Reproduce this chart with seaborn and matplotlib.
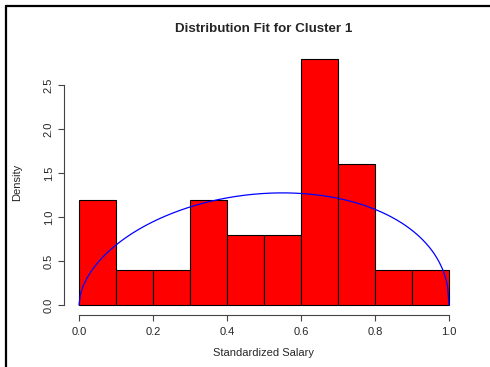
import math
import numpy as np
import pandas as pd
import matplotlib
matplotlib.use("Agg")
import matplotlib.pyplot as plt
from matplotlib.lines import Line2D
import seaborn as sns

# histogram of standardized salary, cluster 1 (25 obs)
bin_edges = [0.0, 0.1, 0.2, 0.3, 0.4, 0.5, 0.6, 0.7, 0.8, 0.9, 1.0]
bin_counts = [3, 1, 1, 3, 2, 2, 7, 4, 1, 1]

# fitted beta shape parameters
shape1 = 1.55
shape2 = 1.45

x_ticks = [0.0, 0.2, 0.4, 0.6, 0.8, 1.0]
y_ticks = [0.0, 0.5, 1.0, 1.5, 2.0, 2.5]

mids = [(a + b) / 2 for a, b in zip(bin_edges[:-1], bin_edges[1:])]
hist_df = pd.DataFrame({'salary': mids, 'n': bin_counts})

xs = np.linspace(0, 1, 301)
beta_const = math.gamma(shape1) * math.gamma(shape2) / math.gamma(shape1 + shape2)
curve_df = pd.DataFrame({'x': xs,
                         'dens': xs ** (shape1 - 1) * (1 - xs) ** (shape2 - 1) / beta_const})

sns.set_style('white')
plt.rcParams['font.family'] = ['Liberation Sans', 'DejaVu Sans']

fig = plt.figure(figsize=(4.9, 3.67), dpi=100)
ax = fig.add_axes([0.131, 0.1422, 0.8155, 0.7235])

sns.histplot(data=hist_df, x='salary', weights='n', bins=bin_edges, stat='density',
             color='#ff0000', alpha=1, edgecolor='black', linewidth=0.8, ax=ax)
sns.lineplot(data=curve_df, x='x', y='dens', color='#0000ff', linewidth=0.9, ax=ax)

ax.set_xlim(-0.04, 1.04)
ax.set_ylim(-0.112, 2.912)
ax.set_xticks(x_ticks)
ax.set_yticks(y_ticks)
ax.set_xticklabels([f'{v:.1f}' for v in x_ticks], fontsize=8)
ax.set_yticklabels([f'{v:.1f}' for v in y_ticks], fontsize=8)
plt.setp(ax.get_yticklabels(), rotation=90, va='center')

for s in ['top', 'right']:
    ax.spines[s].set_visible(False)
ax.spines['left'].set_bounds(0, 2.5)
ax.spines['bottom'].set_bounds(0, 1)
for s in ['left', 'bottom']:
    ax.spines[s].set_color('#444444')
    ax.spines[s].set_linewidth(0.8)
ax.tick_params(axis='both', direction='out', length=4.5, width=0.8, color='#444444',
               left=True, bottom=True)
ax.tick_params(axis='x', pad=4.5)
ax.tick_params(axis='y', pad=3)

ax.set_xlabel('Standardized Salary', fontsize=8)
ax.xaxis.label.set_va('center')
ax.xaxis.set_label_coords(0.5, -0.144)
ax.set_ylabel('Density', fontsize=8)
ax.yaxis.label.set_va('center')
ax.yaxis.set_label_coords(-0.118, 0.5)

ax.set_title('Distribution Fit for Cluster 1', fontsize=9.6, fontweight='bold',
             y=1.0765, va='center', pad=0)

# outer frame of the device (left and top edges)
fig.add_artist(Line2D([5.5 / 490, 5.5 / 490], [0, 1 - 5.5 / 367], color='black', lw=1.6))
fig.add_artist(Line2D([5.5 / 490, 1], [1 - 5.5 / 367, 1 - 5.5 / 367], color='black', lw=1.6))

fig.savefig('out.png', dpi=100)
